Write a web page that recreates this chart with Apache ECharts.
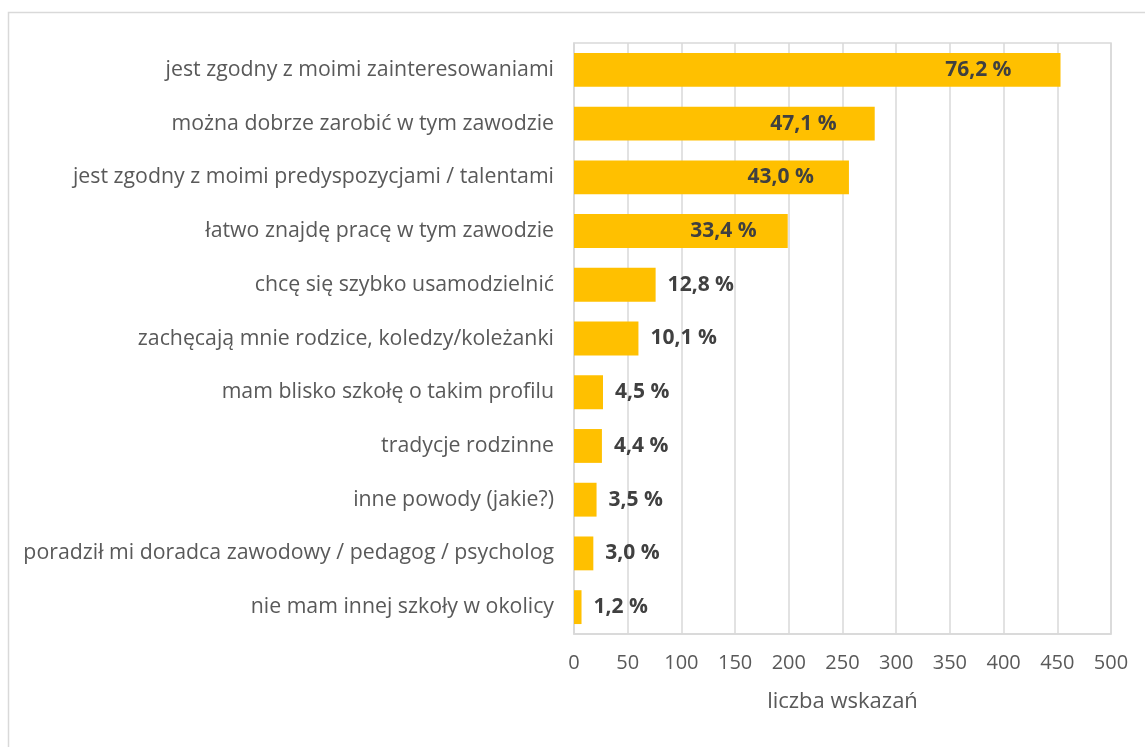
<!DOCTYPE html>
<html>
<head>
<meta charset="utf-8">
<script src="https://cdn.jsdelivr.net/npm/echarts@6/dist/echarts.min.js"></script>
<style>
  html, body { margin: 0; padding: 0; background: #fff; }
  #chart { width: 1145px; height: 747px; }
</style>
</head>
<body>
<div id="chart"></div>
<script>
const categories = [
  'jest zgodny z moimi zainteresowaniami',
  'można dobrze zarobić w tym zawodzie',
  'jest zgodny z moimi predyspozycjami / talentami',
  'łatwo znajdę pracę w tym zawodzie',
  'chcę się szybko usamodzielnić',
  'zachęcają mnie rodzice, koledzy/koleżanki',
  'mam blisko szkołę o takim profilu',
  'tradycje rodzinne',
  'inne powody (jakie?)',
  'poradził mi doradca zawodowy / pedagog / psycholog',
  'nie mam innej szkoły w okolicy'
]
const counts = [453, 280, 256, 199, 76, 60, 27, 26, 21, 18, 7]
const percents = ['76,2 %', '47,1 %', '43,0 %', '33,4 %', '12,8 %', '10,1 %', '4,5 %', '4,4 %', '3,5 %', '3,0 %', '1,2 %']
const xTicks = [0, 50, 100, 150, 200, 250, 300, 350, 400, 450, 500]

// odstęp etykiety od końca słupka (tylko dla etykiet w środku)
const insideGap = [49, 38, 35, 31]

const font = '"Open Sans", sans-serif'
const chart = echarts.init(document.getElementById('chart'))

const barData = counts.map((v, i) => ({
  value: v,
  label: i < insideGap.length
    ? { position: 'insideRight', distance: insideGap[i] }
    : { position: 'right', distance: 12 }
}))

chart.setOption({
  animation: false,
  graphic: [{
    type: 'rect',
    shape: { x: 8.5, y: 12.5, width: 1300, height: 900 },
    style: { fill: 'none', stroke: '#d9d9d9', lineWidth: 1.5 },
    silent: true
  }],
  grid: {
    left: 574,
    right: 34,
    top: 43,
    bottom: 113,
    show: true,
    borderColor: '#d9d9d9',
    borderWidth: 1.5
  },
  xAxis: {
    type: 'value',
    min: xTicks[0],
    max: xTicks[xTicks.length - 1],
    interval: 50,
    name: 'liczba wskazań',
    nameLocation: 'middle',
    nameGap: 57,
    nameTextStyle: { color: '#595959', fontSize: 22, fontFamily: font },
    axisLine: { show: true, lineStyle: { color: '#d9d9d9', width: 1.5 } },
    axisTick: { show: false },
    axisLabel: { color: '#595959', fontSize: 20, fontFamily: font, margin: 19 },
    splitLine: { lineStyle: { color: '#d9d9d9', width: 1.5 } }
  },
  yAxis: {
    type: 'category',
    data: categories,
    inverse: true,
    axisLine: { show: true, lineStyle: { color: '#d9d9d9', width: 1.5 } },
    axisTick: { show: false },
    axisLabel: { color: '#595959', fontSize: 21.3, fontFamily: font, margin: 20 }
  },
  series: [{
    type: 'bar',
    data: barData,
    barCategoryGap: '37%',
    itemStyle: { color: '#ffc000' },
    label: {
      show: true,
      formatter: p => percents[p.dataIndex],
      color: '#404040',
      fontWeight: 'bold',
      fontSize: 21,
      fontFamily: font
    }
  }]
})
</script>
</body>
</html>
